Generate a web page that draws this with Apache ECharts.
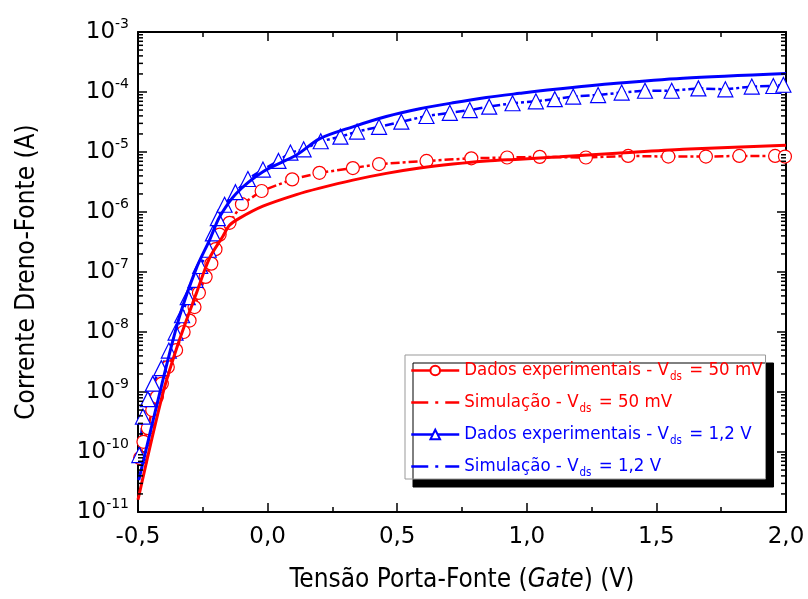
<!DOCTYPE html>
<html>
<head>
<meta charset="utf-8">
<script src="https://cdn.jsdelivr.net/npm/echarts@6/dist/echarts.min.js"></script>
<style>
  html, body { margin: 0; padding: 0; background: #fff; }
  #chart { width: 808px; height: 599px; }
</style>
</head>
<body>
<div id="chart"></div>
<script>
// Dados experimentais - Vds = 50 mV (circulos)
var vExp50 = [-0.492, -0.479, -0.462, -0.445, -0.427, -0.408, -0.385, -0.353, -0.324, -0.301, -0.282, -0.265, -0.239, -0.217, -0.201, -0.185, -0.147, -0.099, -0.023, 0.095, 0.2, 0.329, 0.43, 0.613, 0.786, 0.924, 1.05, 1.228, 1.391, 1.546, 1.691, 1.82, 1.958, 1.996];
var iExp50 = [7.9e-11, 1.48e-10, 2.5e-10, 5.0e-10, 8.3e-10, 1.38e-9, 2.6e-9, 5.0e-9, 1.0e-8, 1.55e-8, 2.6e-8, 4.5e-8, 8.3e-8, 1.38e-7, 2.4e-7, 4.2e-7, 6.6e-7, 1.35e-6, 2.24e-6, 3.5e-6, 4.5e-6, 5.4e-6, 6.3e-6, 7.1e-6, 7.85e-6, 8.1e-6, 8.3e-6, 8.1e-6, 8.6e-6, 8.4e-6, 8.4e-6, 8.6e-6, 8.6e-6, 8.4e-6];

// Simulacao - Vds = 50 mV
var vSim50 = [-0.5, -0.404, -0.34, -0.275, -0.224, -0.173, -0.147, -0.108, -0.018, 0.111, 0.201, 0.329, 0.458, 0.587, 0.715, 0.844, 0.973, 1.127, 1.346, 1.603, 2.0];
var iSim50 = [1.6e-11, 9.5e-10, 7.4e-9, 4.4e-8, 1.7e-7, 3.9e-7, 6.0e-7, 7.9e-7, 1.25e-6, 1.95e-6, 2.5e-6, 3.4e-6, 4.4e-6, 5.4e-6, 6.3e-6, 7.1e-6, 7.6e-6, 8.3e-6, 9.5e-6, 1.11e-5, 1.3e-5];

// Dados experimentais - Vds = 1,2 V (triangulos)
var vExp12 = [-0.495, -0.481, -0.462, -0.443, -0.41, -0.381, -0.355, -0.33, -0.308, -0.278, -0.26, -0.227, -0.211, -0.192, -0.166, -0.124, -0.076, -0.018, 0.042, 0.088, 0.139, 0.205, 0.281, 0.345, 0.43, 0.516, 0.613, 0.703, 0.78, 0.855, 0.945, 1.035, 1.108, 1.179, 1.275, 1.366, 1.456, 1.559, 1.662, 1.766, 1.868, 1.951, 1.99];
var iExp12 = [8.9e-11, 3.9e-10, 7.6e-10, 1.38e-9, 2.5e-9, 4.9e-9, 9.8e-9, 1.9e-8, 3.8e-8, 7.4e-8, 1.26e-7, 2.35e-7, 4.4e-7, 7.9e-7, 1.32e-6, 2.14e-6, 3.55e-6, 5.1e-6, 7.1e-6, 9.8e-6, 1.11e-5, 1.51e-5, 1.8e-5, 2.19e-5, 2.63e-5, 3.2e-5, 3.98e-5, 4.5e-5, 5.0e-5, 5.7e-5, 6.5e-5, 7.0e-5, 7.6e-5, 8.4e-5, 8.9e-5, 9.8e-5, 1.05e-4, 1.05e-4, 1.15e-4, 1.11e-4, 1.23e-4, 1.26e-4, 1.32e-4];

// Simulacao - Vds = 1,2 V
var vSim12 = [-0.497, -0.404, -0.34, -0.275, -0.224, -0.185, -0.121, -0.018, 0.111, 0.2, 0.329, 0.458, 0.587, 0.715, 0.844, 0.973, 1.1, 1.346, 1.603, 2.0];
var iSim12 = [3.4e-11, 1.58e-9, 1.8e-8, 1.15e-7, 3.4e-7, 8.3e-7, 2.04e-6, 4.7e-6, 8.9e-6, 1.66e-5, 2.63e-5, 3.9e-5, 5.25e-5, 6.6e-5, 8.1e-5, 9.5e-5, 1.1e-4, 1.4e-4, 1.7e-4, 2.04e-4];

var legendNames = [
  'Dados experimentais - Vds = 50 mV',
  'Simulação - Vds = 50 mV',
  'Dados experimentais - Vds = 1,2 V',
  'Simulação - Vds = 1,2 V'
];

var RED = '#ff0000', BLUE = '#0000ff';
var tickFont = 'DejaVu Sans';
var titleFont = "'DejaVu Sans Condensed', 'DejaVu Sans'";

function zip(xs, ys) {
  return xs.map(function (x, i) { return [x, ys[i]]; });
}

// minor ticks of log axis (2..9 in each decade)
var minorTicks = [];
for (var e = -11; e < -3; e++) {
  for (var m = 2; m <= 9; m++) minorTicks.push([-0.5, m * Math.pow(10, e)]);
}

var chart = echarts.init(document.getElementById('chart'));

var expLine = { width: 2.5, type: [9, 3, 3, 3] };
var simLegendDash = [17, 7, 3, 7];

var option = {
  animation: false,
  backgroundColor: '#fff',
  grid: { left: 138, right: 22, top: 32, bottom: 87, containLabel: false },
  legend: {
    orient: 'vertical',
    left: 405,
    top: 355,
    itemWidth: 48,
    itemHeight: 12,
    itemGap: 10,
    padding: [6, 3, 0, 5],
    backgroundColor: '#fff',
    borderColor: '#999',
    borderWidth: 1,
    shadowColor: '#000',
    shadowBlur: 0,
    shadowOffsetX: 8,
    shadowOffsetY: 8,
    formatter: function (name) {
      var parts = name.split('Vds');
      var c = name.indexOf('1,2') >= 0 ? 'b' : 'r';
      return '{' + c + '|' + parts[0] + 'V}{' + c + 's|ds}{' + c + '|' + parts[1] + '}';
    },
    textStyle: {
      fontFamily: titleFont,
      fontSize: 18.5,
      rich: {
        r: { color: RED, fontFamily: titleFont, fontSize: 18.5, lineHeight: 23 },
        rs: { color: RED, fontFamily: titleFont, fontSize: 11.5, padding: [13, 2, 0, 1] },
        b: { color: BLUE, fontFamily: titleFont, fontSize: 18.5, lineHeight: 23 },
        bs: { color: BLUE, fontFamily: titleFont, fontSize: 11.5, padding: [13, 2, 0, 1] }
      }
    },
    data: [
      { name: legendNames[0], lineStyle: { type: 'solid', width: 2.5 } },
      { name: legendNames[1], lineStyle: { type: simLegendDash, width: 2.5 }, itemStyle: { opacity: 0 } },
      { name: legendNames[2], lineStyle: { type: 'solid', width: 2.5 } },
      { name: legendNames[3], lineStyle: { type: simLegendDash, width: 2.5 }, itemStyle: { opacity: 0 } }
    ]
  },
  xAxis: [{
    type: 'value',
    min: -0.5,
    max: 2.0,
    interval: 0.5,
    position: 'bottom',
    name: 'Tensão Porta-Fonte ({i|Gate}) (V)',
    nameLocation: 'middle',
    nameGap: 55,
    nameTextStyle: {
      fontFamily: titleFont, fontSize: 26, color: '#000',
      rich: { i: { fontFamily: titleFont, fontSize: 26, fontStyle: 'italic', color: '#000' } }
    },
    axisLine: { show: true, onZero: false, lineStyle: { color: '#000', width: 2 } },
    axisTick: { show: true, inside: true, length: 9, lineStyle: { color: '#000', width: 1.5 } },
    minorTick: { show: true, splitNumber: 2, length: 5, lineStyle: { color: '#000', width: 1.5 } },
    axisLabel: {
      margin: 14,
      fontFamily: tickFont, fontSize: 23, color: '#000',
      formatter: function (v) { return v.toFixed(1).replace('.', ','); }
    },
    splitLine: { show: false }
  }, {
    type: 'value',
    min: -0.5,
    max: 2.0,
    interval: 0.5,
    position: 'top',
    axisLine: { show: true, onZero: false, lineStyle: { color: '#000', width: 2 } },
    axisTick: { show: true, inside: true, length: 9, lineStyle: { color: '#000', width: 1.5 } },
    minorTick: { show: true, splitNumber: 2, length: 5, lineStyle: { color: '#000', width: 1.5 } },
    axisLabel: { show: false },
    splitLine: { show: false }
  }],
  yAxis: [{
    type: 'log',
    logBase: 10,
    min: 1e-11,
    max: 1e-3,
    splitNumber: 8,
    position: 'left',
    name: 'Corrente Dreno-Fonte (A)',
    nameLocation: 'middle',
    nameGap: 98,
    nameTextStyle: { fontFamily: titleFont, fontSize: 26, color: '#000' },
    axisLine: { show: true, onZero: false, lineStyle: { color: '#000', width: 2 } },
    axisTick: { show: true, inside: true, length: 9, lineStyle: { color: '#000', width: 1.5 } },
    axisLabel: {
      margin: 9,
      formatter: function (v) {
        var ex = Math.round(Math.log(v) / Math.LN10);
        return '{n|10}{s|' + ex + '}';
      },
      rich: {
        n: { fontFamily: tickFont, fontSize: 23, color: '#000' },
        s: { fontFamily: tickFont, fontSize: 14, color: '#000', padding: [0, 0, 16, 0] }
      }
    },
    splitLine: { show: false }
  }, {
    type: 'log',
    logBase: 10,
    min: 1e-11,
    max: 1e-3,
    splitNumber: 8,
    position: 'right',
    axisLine: { show: true, onZero: false, lineStyle: { color: '#000', width: 2 } },
    axisTick: { show: true, inside: true, length: 9, lineStyle: { color: '#000', width: 1.5 } },
    axisLabel: { show: false },
    splitLine: { show: false }
  }],
  series: [{
    name: legendNames[0],
    type: 'line',
    data: zip(vExp50, iExp50),
    symbol: 'circle',
    symbolSize: 13,
    itemStyle: { color: '#fff', borderColor: RED, borderWidth: 1.2 },
    lineStyle: { color: RED, width: expLine.width, type: expLine.type },
    z: 3
  }, {
    name: legendNames[1],
    type: 'line',
    data: zip(vSim50, iSim50),
    symbol: 'none',
    smooth: 0.3,
    itemStyle: { color: RED },
    lineStyle: { color: RED, width: 3 },
    z: 4
  }, {
    name: legendNames[2],
    type: 'line',
    data: zip(vExp12, iExp12),
    symbol: 'triangle',
    symbolSize: 15,
    itemStyle: { color: '#fff', borderColor: BLUE, borderWidth: 1.2 },
    lineStyle: { color: BLUE, width: expLine.width, type: expLine.type },
    z: 3
  }, {
    name: legendNames[3],
    type: 'line',
    data: zip(vSim12, iSim12),
    symbol: 'none',
    smooth: 0.3,
    itemStyle: { color: BLUE },
    lineStyle: { color: BLUE, width: 3 },
    z: 4
  }, {
    type: 'custom',
    silent: true,
    data: minorTicks,
    z: 5,
    renderItem: function (params, api) {
      var cs = params.coordSys;
      var y = api.coord([api.value(0), api.value(1)])[1];
      var st = { stroke: '#000', lineWidth: 1.5 };
      return {
        type: 'group',
        children: [
          { type: 'line', shape: { x1: cs.x, y1: y, x2: cs.x + 5, y2: y }, style: st },
          { type: 'line', shape: { x1: cs.x + cs.width - 5, y1: y, x2: cs.x + cs.width, y2: y }, style: st }
        ]
      };
    }
  }]
};

chart.setOption(option);
</script>
</body>
</html>
